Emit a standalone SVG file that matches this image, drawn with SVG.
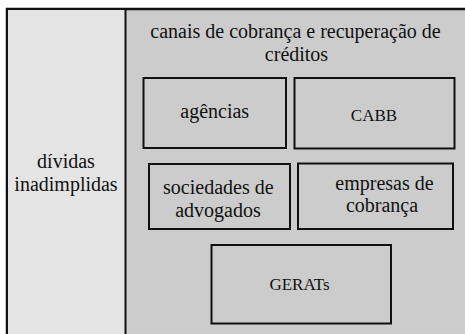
<svg xmlns="http://www.w3.org/2000/svg" width="465" height="334" viewBox="0 0 465 334">
<style>
.t{font-family:'Liberation Serif',serif;font-size:20px;fill:#111;text-anchor:middle}
.s{font-family:'Liberation Serif',serif;font-size:17px;fill:#111;text-anchor:middle}
.box{fill:#cccccc;stroke:#111;stroke-width:2}
</style>
<rect x="0" y="0" width="465" height="334" fill="#ffffff"/>
<g id="outer">
<rect x="7" y="9" width="470" height="340" fill="#cccccc" stroke="#111" stroke-width="2.5"/>
</g>
<g id="dividas">
<rect x="7" y="9" width="118.5" height="340" fill="#e4e4e4" stroke="#111" stroke-width="2"/>
<text class="t" x="66" y="168">dívidas</text>
<text class="t" x="66" y="191">inadimplidas</text>
</g>
<g id="canais">
<text class="t" x="295.5" y="37.5">canais de cobrança e recuperação de</text>
<text class="t" x="296.5" y="61">créditos</text>
</g>
<g id="agencias">
<rect class="box" x="143.5" y="78" width="142.5" height="70"/>
<text class="t" x="214.7" y="118">agências</text>
</g>
<g id="cabb">
<rect class="box" x="294.5" y="78" width="160" height="70.5"/>
<text class="s" x="374" y="121">CABB</text>
</g>
<g id="sociedades">
<rect class="box" x="149" y="164" width="141" height="65"/>
<text class="t" x="218.3" y="194.3">sociedades de</text>
<text class="t" x="218" y="216.7">advogados</text>
</g>
<g id="empresas">
<rect class="box" x="298" y="163.5" width="155" height="65.5"/>
<text class="t" x="384.5" y="190">empresas de</text>
<text class="t" x="382" y="212">cobrança</text>
</g>
<g id="gerats">
<rect class="box" x="211.5" y="245" width="179.5" height="78.5"/>
<text class="s" x="299.5" y="290">GERATs</text>
</g>
<g id="connectors"></g>
</svg>
